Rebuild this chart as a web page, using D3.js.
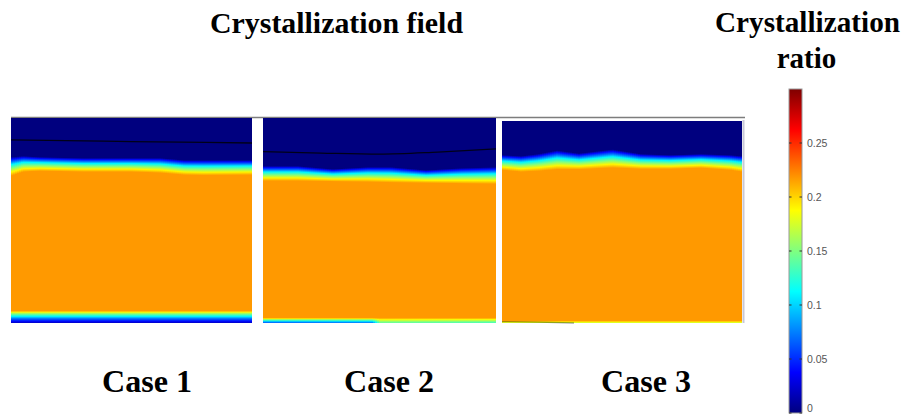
<!DOCTYPE html>
<html>
<head>
<meta charset="utf-8">
<script src="https://cdn.jsdelivr.net/npm/d3@7"></script>
<style>
  body { margin: 0; background: #fff; }
  svg { display: block; }
</style>
</head>
<body>
<svg id="chart" width="904" height="414"></svg>
<script>
// ---- data ----
const cases = ["Case 1", "Case 2", "Case 3"];
const ratioTicks = [0, 0.05, 0.1, 0.15, 0.2, 0.25];
const ratioMax = 0.3;
const coreRatio = 0.2175;

// crystallization front: t runs from navy edge (0) to the solid core (1)
const frontT = [0, 0.12, 0.25, 0.4, 0.6, 0.8, 1];
const frontV = [0, 0.04, 0.07, 0.11, 0.15, 0.19, coreRatio];
// bottom wall layer: s from band top (0) to wall (1), weight of wall value
const wallS = [0, 0.1, 0.25, 0.45, 0.65, 0.85, 1];
const wallW = [0, 0.14, 0.34, 0.54, 0.75, 0.9, 1];

// case 1 (depths as fraction of the domain height)
const c1X     = [0, 0.05, 0.12, 0.3, 0.5, 0.62, 0.72, 0.8, 1];
const c1Navy  = [0.190, 0.185, 0.190, 0.195, 0.195, 0.195, 0.205, 0.205, 0.205];
const c1Core  = [0.283, 0.263, 0.259, 0.263, 0.263, 0.268, 0.278, 0.280, 0.278];
const c1LineX = [0, 0.5, 1];
const c1LineY = [0.107, 0.115, 0.122];
const c1Band  = 0.941;
const c1WallX = [0, 1];
const c1Wall  = [0.02, 0.02];

// case 2
const c2X     = [0, 0.15, 0.3, 0.45, 0.55, 0.7, 0.85, 1];
const c2Navy  = [0.234, 0.234, 0.249, 0.239, 0.239, 0.254, 0.244, 0.239];
const c2Core  = [0.307, 0.307, 0.310, 0.312, 0.315, 0.317, 0.320, 0.322];
const c2LineX = [0, 0.25, 0.5, 0.75, 1];
const c2LineY = [0.164, 0.171, 0.176, 0.166, 0.151];
const c2Band  = 0.976;
const c2WallX = [0, 0.47, 0.5, 1];
const c2Wall  = [0.06, 0.07, 0.14, 0.13];

// case 3
const c3X     = [0, 0.08, 0.15, 0.23, 0.32, 0.46, 0.58, 0.7, 0.83, 0.95, 1];
const c3Navy  = [0.168, 0.173, 0.163, 0.145, 0.160, 0.140, 0.163, 0.168, 0.163, 0.168, 0.173];
const c3Core  = [0.243, 0.252, 0.248, 0.240, 0.240, 0.232, 0.238, 0.238, 0.233, 0.243, 0.252];
const c3LineX = [0, 0.15, 0.3];
const c3LineY = [0.993, 0.996, 1.0];
const c3Band  = 0.990;
const c3WallX = [0, 1];
const c3Wall  = [0.17, 0.17];

const fields = [
  {name: cases[0], x: c1X, navy: c1Navy, core: c1Core, lineX: c1LineX, lineY: c1LineY, band: c1Band, wallX: c1WallX, wall: c1Wall, lineOp: 0.8},
  {name: cases[1], x: c2X, navy: c2Navy, core: c2Core, lineX: c2LineX, lineY: c2LineY, band: c2Band, wallX: c2WallX, wall: c2Wall, lineOp: 0.8},
  {name: cases[2], x: c3X, navy: c3Navy, core: c3Core, lineX: c3LineX, lineY: c3LineY, band: c3Band, wallX: c3WallX, wall: c3Wall, lineOp: 0.35}
];

// ---- layout ----
const panels = [
  {x0: 11,  x1: 252, y0: 118, y1: 323, label: 147},
  {x0: 263, x1: 496, y0: 118, y1: 323, label: 389},
  {x0: 502, x1: 742, y0: 121, y1: 323, label: 646}
];
const serif = "'Times New Roman', 'Liberation Serif', serif";

const svg = d3.select("#chart");
const defs = svg.append("defs");

// jet colormap
const jetT = [0, 0.125, 0.375, 0.625, 0.875, 1];
const jet = d3.scaleLinear()
  .domain(jetT.map(t => t * ratioMax))
  .range(["#00007f", "#0000ff", "#00ffff", "#ffff00", "#ff0000", "#7f0000"])
  .clamp(true);

const frontScale = d3.scaleLinear().domain(frontT).range(frontV);
const wallScale = d3.scaleLinear().domain(wallS).range(wallW);

// thin gray frame line across the top
svg.append("line")
  .attr("x1", 11).attr("x2", 745).attr("y1", 117.5).attr("y2", 117.5)
  .attr("stroke", "#7d7d7d").attr("stroke-width", 1.3);

fields.forEach((f, i) => {
  const p = panels[i];
  const x = d3.scaleLinear().domain([0, 1]).range([p.x0, p.x1]);
  const y = d3.scaleLinear().domain([0, 1]).range([p.y0, p.y1]);
  const navyAt = d3.scaleLinear().domain(f.x).range(f.navy);
  const coreAt = d3.scaleLinear().domain(f.x).range(f.core);
  const wallAt = d3.scaleLinear().domain(f.wallX).range(f.wall);

  const step = 2;
  const cols = d3.range(p.x0, p.x1, step).map(px => {
    const fr = x.invert(Math.min(px + step / 2, p.x1));
    return {px, fr, navy: navyAt(fr), core: coreAt(fr), wall: wallAt(fr)};
  });

  const g = svg.append("g");
  cols.forEach((c, j) => {
    const id = `grad${i}_${j}`;
    const stops = [{o: 0, v: 0}];
    frontT.forEach(t => stops.push({o: c.navy + t * (c.core - c.navy), v: frontScale(t)}));
    wallS.forEach(s => stops.push({o: f.band + s * (1 - f.band), v: coreRatio + (c.wall - coreRatio) * wallScale(s)}));
    const lg = defs.append("linearGradient").attr("id", id)
      .attr("x1", 0).attr("y1", 0).attr("x2", 0).attr("y2", 1);
    lg.selectAll("stop").data(stops).join("stop")
      .attr("offset", d => d.o)
      .attr("stop-color", d => jet(d.v));
    g.append("rect")
      .attr("x", c.px).attr("y", y(0))
      .attr("width", Math.min(step + 0.6, p.x1 - c.px))
      .attr("height", y(1) - y(0))
      .attr("fill", `url(#${id})`);
  });

  // black contour line
  const line = d3.line().x(d => x(d[0])).y(d => y(d[1])).curve(d3.curveMonotoneX);
  g.append("path")
    .attr("d", line(d3.zip(f.lineX, f.lineY)))
    .attr("fill", "none").attr("stroke", "#000").attr("stroke-opacity", f.lineOp).attr("stroke-width", 1.3);

  svg.append("text")
    .attr("x", p.label).attr("y", 392)
    .attr("text-anchor", "middle")
    .attr("font-family", serif).attr("font-weight", "bold").attr("font-size", 31)
    .attr("textLength", 90).attr("lengthAdjust", "spacingAndGlyphs")
    .text(f.name);
});

// faint border on right of case 3
svg.append("line")
  .attr("x1", 743.5).attr("x2", 743.5).attr("y1", 120).attr("y2", 323)
  .attr("stroke", "#c8c8d6").attr("stroke-width", 2);

// titles
svg.append("text")
  .attr("x", 336.5).attr("y", 33).attr("text-anchor", "middle")
  .attr("font-family", serif).attr("font-weight", "bold").attr("font-size", 29)
  .attr("textLength", 253).attr("lengthAdjust", "spacingAndGlyphs")
  .text("Crystallization field");
svg.append("text")
  .attr("x", 807.5).attr("y", 32).attr("text-anchor", "middle")
  .attr("font-family", serif).attr("font-weight", "bold").attr("font-size", 29)
  .attr("textLength", 185).attr("lengthAdjust", "spacingAndGlyphs")
  .text("Crystallization");
svg.append("text")
  .attr("x", 806.5).attr("y", 68).attr("text-anchor", "middle")
  .attr("font-family", serif).attr("font-weight", "bold").attr("font-size", 29)
  .text("ratio");

// ---- colorbar ----
const cbX = 789, cbW = 13;
const cbY = d3.scaleLinear().domain([0, ratioMax]).range([413, 89]);
const cbGrad = defs.append("linearGradient").attr("id", "cbGrad")
  .attr("x1", 0).attr("y1", 1).attr("x2", 0).attr("y2", 0);
cbGrad.selectAll("stop").data(jetT).join("stop")
  .attr("offset", d => d)
  .attr("stop-color", d => jet(d * ratioMax));
svg.append("rect")
  .attr("x", cbX).attr("y", cbY(ratioMax))
  .attr("width", cbW).attr("height", cbY(0) - cbY(ratioMax))
  .attr("fill", "url(#cbGrad)")
  .attr("stroke", "#9a9a9a").attr("stroke-width", 1);

const tk = svg.append("g").selectAll("g").data(ratioTicks).join("g")
  .attr("transform", d => `translate(0,${cbY(d)})`);
tk.append("line").attr("x1", cbX).attr("x2", cbX + 2.5).attr("stroke", "#333").attr("stroke-width", 1);
tk.append("line").attr("x1", cbX + cbW - 2.5).attr("x2", cbX + cbW).attr("stroke", "#333").attr("stroke-width", 1);
tk.append("text")
  .attr("x", 807)
  .attr("dy", d => d === 0 ? "-0.1em" : "0.35em")
  .attr("font-family", "'Liberation Sans', Arial, sans-serif").attr("font-size", 10.5)
  .attr("fill", "#555")
  .text(d => d);
</script>
</body>
</html>
